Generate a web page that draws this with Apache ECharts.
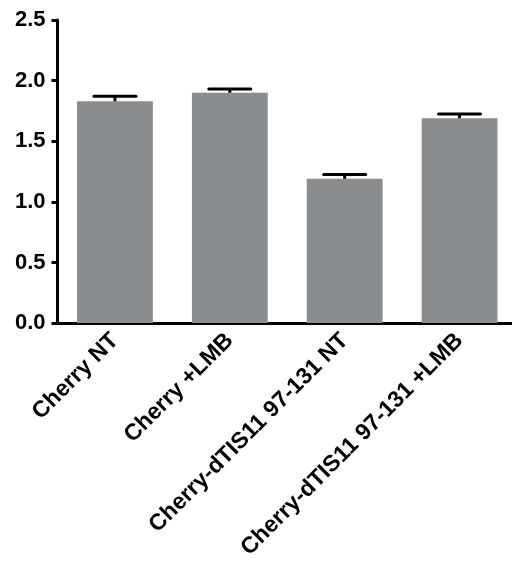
<!DOCTYPE html>
<html>
<head>
<meta charset="utf-8">
<script src="https://cdn.jsdelivr.net/npm/echarts@6/dist/echarts.min.js"></script>
<style>
  html, body { margin: 0; padding: 0; background: #fff; overflow: hidden; }
  #chart { width: 517px; height: 562px; }
</style>
</head>
<body>
<div id="chart"></div>
<script>
// Groups along the x axis
const categories = ['Cherry NT', 'Cherry +LMB', 'Cherry-dTIS11 97-131 NT', 'Cherry-dTIS11 97-131 +LMB'];
// Mean values (bar heights)
const means = [1.83, 1.90, 1.19, 1.69];
// Upper error (SEM) for each bar
const errors = [0.04, 0.03, 0.035, 0.035];
// Y axis tick labels
const yTicks = ['0.0', '0.5', '1.0', '1.5', '2.0', '2.5'];

const FONT = '"Liberation Sans", Arial, Helvetica, sans-serif';

const chart = echarts.init(document.getElementById('chart'));

const errorData = means.map((m, i) => [i, m, m + errors[i]]);

chart.setOption({
  animation: false,
  backgroundColor: '#ffffff',
  grid: { left: 57.5, right: 0, top: 20, bottom: 236.5, containLabel: false },
  xAxis: {
    type: 'category',
    data: categories,
    axisLine: { show: true, lineStyle: { color: '#000', width: 3 } },
    axisTick: { show: false },
    axisLabel: {
      rotate: 45,
      interval: 0,
      margin: 14,
      color: '#000',
      fontFamily: FONT,
      fontWeight: 'bold',
      fontSize: 23
    }
  },
  yAxis: {
    type: 'value',
    min: 0,
    max: 2.5,
    interval: 0.5,
    splitLine: { show: false },
    axisLine: { show: true, lineStyle: { color: '#000', width: 3 } },
    axisTick: { show: true, length: 6, lineStyle: { color: '#000', width: 3 } },
    axisLabel: {
      margin: 12,
      color: '#000',
      fontFamily: FONT,
      fontWeight: 'bold',
      fontSize: 22,
      formatter: (v) => yTicks[Math.round(v / 0.5)]
    }
  },
  series: [
    {
      type: 'bar',
      data: means,
      barWidth: '66%',
      itemStyle: { color: '#8a8d90' },
      z: 1
    },
    {
      type: 'custom',
      data: errorData,
      z: 3,
      renderItem: function (params, api) {
        const x = api.value(0);
        const low = api.coord([x, api.value(1)]);
        const high = api.coord([x, api.value(2)]);
        const halfCap = 21;
        const style = { stroke: '#000', lineWidth: 3 };
        return {
          type: 'group',
          children: [
            { type: 'line', shape: { x1: low[0], y1: low[1], x2: high[0], y2: high[1] }, style: style },
            { type: 'line', shape: { x1: high[0] - halfCap, y1: high[1], x2: high[0] + halfCap, y2: high[1] }, style: Object.assign({ lineCap: 'round' }, style) }
          ]
        };
      }
    }
  ]
});
</script>
</body>
</html>
